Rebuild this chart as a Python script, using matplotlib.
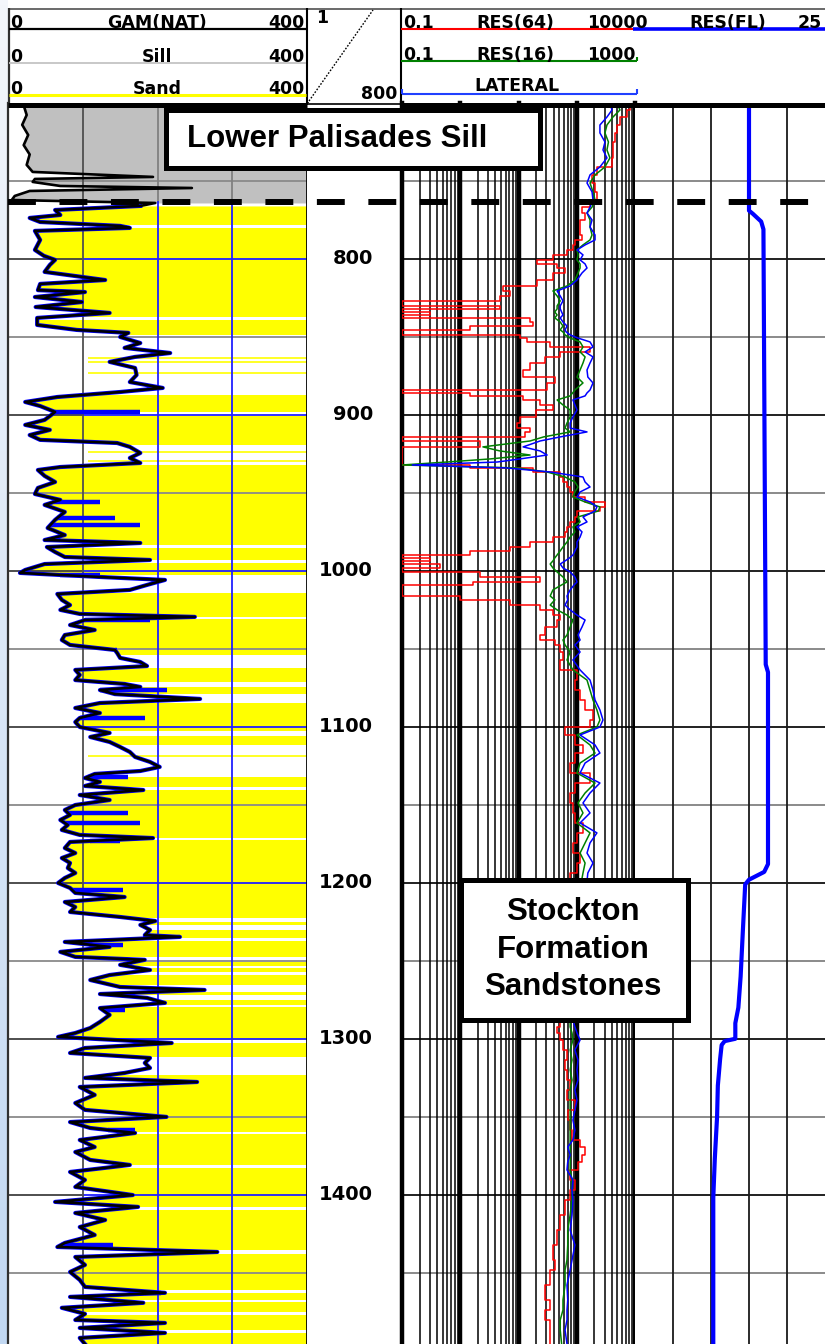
import numpy as np
import matplotlib
matplotlib.use("Agg")
import matplotlib.pyplot as plt
import matplotlib.transforms as mtransforms
from matplotlib.patches import Rectangle
from matplotlib.colors import LinearSegmentedColormap

# ------------------------------------------------------------------ data
gr_depth = [700.0, 707.7, 714.0, 720.5, 727.0, 733.0, 739.7, 744.2, 747.4, 748.7,
            750.6, 753.2, 754.5, 756.4, 759.6, 762.2, 764.1, 766.0, 768.6, 771.8,
            773.7, 776.3, 778.8, 780.1, 782.0, 787.8, 794.2, 798.0, 800.6, 803.8,
            808.3, 813.5, 816.0, 820.0, 821.2, 824.4, 827.6, 830.8, 834.6, 837.8,
            842.3, 845.5, 847.4, 850.0, 853.9, 857.0, 860.3, 862.8, 866.0, 869.9,
            874.4, 878.9, 882.7, 885.3, 888.5, 891.7, 894.3, 898.1, 900.7, 903.2,
            906.4, 909.6, 912.9, 916.0, 918.0, 920.5, 924.4, 927.6, 930.8, 933.4,
            935.3, 939.1, 943.0, 946.8, 950.7, 954.5, 957.7, 962.2, 967.3, 972.5,
            977.0, 980.2, 982.1, 984.7, 987.9, 991.1, 993.0, 995.6, 999.4, 1001.3,
            1003.9, 1005.8, 1009.0, 1012.2, 1014.8, 1018.6, 1021.9, 1025.0, 1027.6, 1029.5,
            1031.5, 1034.7, 1037.9, 1041.1, 1044.3, 1047.5, 1050.7, 1052.6, 1055.8, 1058.4,
            1061.0, 1063.5, 1066.7, 1070.0, 1072.5, 1074.4, 1076.4, 1079.0, 1082.1, 1084.7,
            1087.9, 1091.1, 1094.3, 1096.9, 1100.1, 1103.9, 1106.5, 1109.7, 1112.9, 1116.1,
            1119.3, 1122.5, 1125.7, 1128.3, 1130.2, 1132.8, 1135.3, 1137.9, 1140.5, 1143.7,
            1146.9, 1150.1, 1153.3, 1156.5, 1159.7, 1162.9, 1166.1, 1169.3, 1171.3, 1173.8,
            1177.7, 1180.9, 1184.1, 1187.3, 1190.5, 1193.7, 1196.9, 1200.1, 1203.3, 1206.5,
            1209.1, 1212.3, 1215.5, 1218.7, 1221.9, 1224.5, 1227.0, 1230.2, 1233.5, 1234.7,
            1237.9, 1241.1, 1244.3, 1247.5, 1249.4, 1252.6, 1255.9, 1259.1, 1262.3, 1266.8,
            1268.7, 1271.3, 1273.8, 1277.0, 1280.3, 1284.7, 1289.2, 1293.1, 1296.3, 1298.8,
            1302.7, 1305.9, 1309.1, 1312.3, 1315.5, 1318.7, 1321.9, 1325.1, 1327.7, 1330.9,
            1336.0, 1341.2, 1345.6, 1350.1, 1353.4, 1357.2, 1360.4, 1364.9, 1369.4, 1372.6,
            1377.7, 1380.9, 1385.4, 1390.5, 1395.0, 1400.2, 1404.6, 1407.8, 1411.7, 1416.2,
            1420.7, 1425.8, 1430.9, 1433.5, 1436.7, 1439.9, 1445.0, 1449.5, 1454.6, 1459.1,
            1462.9, 1465.5, 1469.3, 1472.5, 1476.4, 1480.3, 1482.2, 1485.4, 1488.6, 1491.8,
            1495.7]
gr_api = [20, 25, 19, 27, 21, 29, 25, 33, 194, 36,
          33, 70, 246, 29, 9, 5, 197, 177, 63, 70,
          29, 43, 150, 163, 36, 43, 36, 48, 63, 56,
          49, 130, 43, 40, 103, 36, 99, 37, 136, 39,
          39, 92, 161, 150, 177, 156, 217, 170, 136, 170,
          172, 163, 207, 150, 66, 23, 43, 63, 56, 49,
          23, 56, 29, 43, 146, 163, 177, 163, 177, 70,
          40, 49, 63, 40, 36, 70, 49, 76, 63, 53,
          76, 49, 177, 52, 63, 76, 190, 49, 23, 16,
          123, 210, 186, 163, 66, 72, 83, 70, 96, 250,
          103, 83, 116, 76, 72, 83, 143, 146, 150, 177,
          186, 90, 96, 90, 156, 177, 123, 143, 257, 123,
          90, 123, 96, 90, 96, 136, 110, 136, 150, 163,
          170, 190, 203, 177, 116, 103, 123, 103, 181, 96,
          136, 90, 76, 83, 70, 80, 72, 96, 194, 83,
          76, 90, 72, 83, 80, 90, 76, 67, 83, 90,
          156, 76, 90, 83, 150, 197, 177, 190, 183, 230,
          76, 136, 70, 90, 183, 150, 190, 136, 110, 150,
          263, 123, 186, 210, 123, 136, 123, 110, 90, 67,
          219, 103, 83, 190, 183, 190, 156, 103, 253, 96,
          116, 90, 103, 212, 83, 110, 170, 96, 116, 90,
          110, 163, 83, 103, 90, 167, 63, 174, 90, 130,
          96, 116, 76, 66, 280, 90, 103, 83, 96, 103,
          210, 83, 181, 72, 103, 90, 210, 96, 210, 96,
          103]

blue_spike_depth = [898.1, 955.8, 966.1, 970.6, 1002.6, 1031.5, 1050.7, 1076.4, 1094.3, 1132.1,
                    1155.2, 1161.6, 1173.2, 1204.6, 1239.9, 1281.5, 1358.5, 1380.9, 1432.2, 1463.0]
blue_spike_api = [177, 123, 143, 177, 123, 190, 146, 213, 183, 161,
                  161, 177, 150, 154, 154, 156, 170, 163, 140, 183]

shale_top = [778.2, 837.2, 848.7, 898.1, 919.3, 983.4, 993.0, 1002.6, 1029.5, 1053.9,
             1071.2, 1078.9, 1102.6, 1111.6, 1138.6, 1171.3, 1222.6, 1227.0, 1235.4, 1247.5,
             1253.3, 1257.2, 1265.5, 1271.9, 1278.3, 1300.8, 1311.7, 1359.8, 1380.9, 1407.9,
             1435.4, 1461.1, 1467.5, 1475.2, 1486.5]
shale_base = [780.1, 839.1, 887.2, 900.7, 932.1, 985.3, 995.0, 1014.2, 1030.8, 1062.3,
              1074.4, 1084.7, 1105.9, 1132.1, 1140.5, 1172.5, 1225.1, 1230.2, 1237.3, 1250.8,
              1254.6, 1259.1, 1270.0, 1275.1, 1279.6, 1302.7, 1323.2, 1361.0, 1382.9, 1409.8,
              1438.0, 1463.0, 1468.8, 1477.1, 1488.4]
thin_sand_depth = [863.5, 866.0, 873.1, 923.8, 929.5, 1118.7]

res_depth = [700.0, 704.5, 709.0, 714.1, 719.2, 725.0, 730.1, 735.2, 741.0, 746.1,
             751.3, 757.0, 762.2, 766.7, 770.5, 775.0, 779.5, 784.6, 787.8, 791.0,
             794.2, 797.4, 800.6, 803.2, 805.8, 809.0, 813.5, 817.3, 820.5, 823.7,
             826.9, 830.1, 832.0, 834.0, 835.9, 837.8, 840.4, 843.0, 845.5, 846.8,
             848.7, 850.7, 853.2, 856.4, 859.6, 862.8, 866.7, 871.2, 875.7, 879.5,
             884.0, 885.9, 887.8, 890.4, 893.6, 896.8, 901.3, 905.2, 908.4, 910.9,
             914.1, 916.7, 920.5, 923.1, 925.7, 928.2, 930.2, 932.1, 934.0, 936.6,
             939.8, 943.0, 946.2, 949.4, 952.6, 955.8, 959.0, 961.6, 965.4, 968.6,
             971.8, 975.0, 978.3, 981.5, 984.7, 987.2, 989.8, 991.7, 993.6, 995.6,
             998.1, 1000.7, 1003.9, 1007.1, 1009.0, 1012.2, 1016.1, 1018.6, 1021.9, 1025.0,
             1028.3, 1031.5, 1036.0, 1041.1, 1044.3, 1047.5, 1052.0, 1057.1, 1063.5, 1070.0,
             1076.4, 1082.8, 1089.2, 1095.6, 1100.1, 1105.2, 1111.6, 1116.8, 1123.2, 1129.6,
             1136.0, 1142.4, 1148.8, 1155.2, 1161.6, 1168.0, 1174.4, 1180.9, 1187.3, 1193.7,
             1211.0, 1236.8, 1262.3, 1281.5, 1288.0, 1292.4, 1296.3, 1300.8, 1307.2, 1313.6,
             1320.0, 1326.5, 1332.8, 1339.3, 1345.7, 1352.1, 1358.5, 1364.9, 1369.4, 1374.5,
             1379.0, 1384.1, 1390.5, 1396.9, 1403.4, 1413.0, 1422.6, 1432.2, 1441.8, 1448.2,
             1457.9, 1467.5, 1473.9, 1480.3, 1486.7, 1495.7]
res_lateral = [371, 402, 330, 250, 250, 305, 282, 330, 250, 169,
               150, 183, 190, 169, 150, 183, 169, 206, 206, 139,
               101, 128, 114, 139, 150, 123, 101, 77, 46, 52,
               58, 52, 52, 55, 58, 52, 58, 68, 63, 66,
               77, 105, 169, 190, 139, 190, 169, 150, 155, 190,
               169, 150, 139, 86, 93, 101, 86, 77, 77, 150,
               52, 23.5, 12, 23.5, 31, 10.7, 4.3, 0.15, 6.3, 35,
               128, 139, 169, 114, 101, 169, 222, 206, 128, 150,
               101, 123, 114, 101, 101, 93, 86, 75, 63, 52,
               58, 77, 93, 101, 90, 77, 68, 70, 63, 77,
               101, 139, 123, 105, 114, 93, 114, 86, 114, 169,
               190, 206, 250, 282, 250, 114, 206, 250, 139, 114,
               250, 169, 128, 169, 114, 222, 169, 150, 190, 155,
               139, 114, 105, 101, 86, 93, 101, 114, 93, 105,
               101, 105, 93, 101, 93, 86, 93, 86, 70, 77,
               70, 68, 86, 83, 86, 83, 77, 93, 83, 77,
               68, 70, 68, 68, 63, 68]
res_16 = [490, 551, 418, 330, 305, 350, 330, 371, 305, 206,
          169, 190, 206, 183, 150, 169, 169, 183, 169, 128,
          101, 105, 101, 114, 114, 105, 93, 68, 39, 46,
          52, 46, 46, 42, 46, 42, 52, 58, 52, 58,
          63, 77, 114, 128, 114, 139, 128, 114, 101, 128,
          93, 85, 77, 46, 58, 77, 77, 68, 63, 77,
          27, 15.8, 2.45, 4.8, 15.8, 3.3, 0.59, 0.1, 9.5, 31,
          63, 93, 105, 93, 86, 139, 250, 235, 105, 114,
          86, 93, 77, 68, 58, 52, 46, 42, 39, 35,
          39, 46, 58, 68, 55, 39, 35, 42, 35, 46,
          68, 86, 77, 68, 58, 63, 77, 68, 86, 150,
          169, 190, 222, 250, 222, 101, 169, 206, 114, 101,
          206, 139, 105, 128, 101, 169, 139, 114, 139, 128,
          105, 93, 86, 77, 77, 77, 83, 86, 77, 83,
          77, 83, 77, 77, 77, 77, 77, 77, 77, 77,
          77, 77, 83, 83, 83, 77, 70, 70, 68, 63,
          63, 58, 58, 52, 52, 55]
res_64 = [670, 815, 725, 551, 490, 460, 418, 418, 402, 222,
          183, 206, 222, 169, 123, 139, 114, 114, 123, 93,
          86, 68, 39, 21, 46, 63, 39, 21, 5.4, 7.1,
          4.8, 0.1, 4.8, 0.1, 0.3, 0.1, 15.8, 17.8, 1.47, 0.1,
          0.1, 10.7, 14, 35, 169, 52, 28, 15.8, 12, 42,
          31, 0.1, 1.47, 12, 23.5, 39, 20, 10.7, 9.5, 15.8,
          13, 0.1, 2.2, 0.1, 0.1, 0.1, 0.1, 0.1, 1.47, 17.8,
          52, 58, 68, 77, 86, 139, 305, 250, 101, 93,
          77, 68, 63, 39, 15.8, 7.1, 1.47, 0.1, 0.3, 0.1,
          0.45, 0.1, 2.2, 23.5, 1.65, 0.1, 0.1, 1.0, 7.1, 23.5,
          39, 52, 46, 28, 23.5, 42, 52, 58, 52, 101,
          93, 114, 139, 190, 169, 63, 93, 128, 93, 77,
          169, 93, 77, 86, 93, 128, 101, 86, 114, 101,
          77, 63, 52, 42, 23.5, 52, 46, 52, 58, 68,
          63, 68, 77, 68, 93, 70, 77, 83, 114, 139,
          123, 105, 77, 93, 77, 63, 52, 46, 39, 42,
          35, 28, 35, 28, 35, 35]

fl_depth = [700, 769, 771, 776, 781, 1060, 1065, 1188, 1193, 1198, 1201, 1230,
            1260, 1280, 1290, 1300, 1301.5, 1304, 1313, 1330, 1350, 1377, 1402, 1495.7]
fl_res = [15.0, 15.0, 15.5, 16.6, 16.9, 17.2, 17.5, 17.5, 17.0, 15.0, 14.5, 14.2,
          13.9, 13.6, 13.2, 13.2, 11.8, 11.4, 11.2, 10.9, 10.8, 10.5, 10.3, 10.3]

depth_labels = [800, 900, 1000, 1100, 1200, 1300, 1400]
sill_base_depth = 763.5
sand_top_depth = 766.0
top_depth, bottom_depth = 700.0, 1495.7

# ------------------------------------------------------------------ layout
W, H = 825, 1344
fig = plt.figure(figsize=(W / 100, H / 100), dpi=100)
fig.patch.set_facecolor("white")


def frac(x0, x1, y0, y1):
    return [x0 / W, 1 - y1 / H, (x1 - x0) / W, (y1 - y0) / H]


def clean(ax):
    ax.tick_params(which="both", length=0, labelbottom=False, labelleft=False)
    for s in ax.spines.values():
        s.set_visible(False)


HDR_FONT = dict(family="DejaVu Sans", fontweight="bold", fontsize=12.5, color="black")

# left slide-background strip
ax_bg = fig.add_axes([0, 0, 8 / W, 1])
grad = np.linspace(0, 1, 256).reshape(-1, 1)
ax_bg.imshow(grad, aspect="auto", extent=[0, 1, 1, 0],
             cmap=LinearSegmentedColormap.from_list("bg", ["#f3f6fb", "#c2d8f2"]))
ax_bg.axis("off")

ax_gr = fig.add_axes(frac(8, 307, 103, H))
ax_dp = fig.add_axes(frac(307, 402, 103, H))
ax_rs = fig.add_axes(frac(402, 635, 103, H))
ax_fl = fig.add_axes(frac(635, 825, 103, H))
for ax in (ax_gr, ax_dp, ax_rs, ax_fl):
    ax.set_ylim(bottom_depth, top_depth)
    ax.set_facecolor("white")
ax_gr.set_xlim(0, 400)
ax_dp.set_xlim(0, 1)
ax_rs.set_xscale("log")
ax_rs.set_xlim(0.1, 1000)
ax_fl.set_xlim(0, 25)
for ax in (ax_gr, ax_dp, ax_rs, ax_fl):
    clean(ax)

# ------------------------------------------------------------------ track 1 (gamma)
gd = np.array(gr_depth)
ga = np.array(gr_api)
ax_gr.fill_betweenx(gd, ga, 400, where=gd <= 764.2, color="#c0c0c0", lw=0, zorder=1)
ax_gr.fill_betweenx(gd, ga, 400, where=gd >= sand_top_depth, color="#ffff00", lw=0, zorder=1)
for t, b in zip(shale_top, shale_base):
    ax_gr.axhspan(t, b, color="white", lw=0, zorder=1.5)
ax_gr.hlines(thin_sand_depth, 107, 400, color="#ffff00", lw=1.2, zorder=1.6)

for d in range(750, 1500, 50):
    if d % 100 == 0:
        ax_gr.plot([0, 100], [d, d], color="#404040", lw=1.3, zorder=2)
        ax_gr.plot([100, 400], [d, d], color="#2020ff", lw=1.3, zorder=2)
    else:
        ax_gr.axhline(d, color="#8a8a8a", lw=1.3, zorder=2)
ax_gr.axvline(100, color="#505050", lw=1.3, zorder=2)
for v in (200, 300):
    ax_gr.plot([v, v], [top_depth, sill_base_depth], color="#808080", lw=1.3, zorder=2)
    ax_gr.plot([v, v], [sill_base_depth, bottom_depth], color="#2020ff", lw=1.3, zorder=2)

sand = gd >= sand_top_depth
ax_gr.plot(ga[sand], gd[sand], color="#0000ff", lw=3.0, zorder=3)
ax_gr.hlines(blue_spike_depth, np.interp(blue_spike_depth, gd, ga), blue_spike_api,
             color="#0000ff", lw=3.2, zorder=3)
ax_gr.plot(ga, gd, color="black", lw=1.9, zorder=4)
ax_gr.axvline(0, color="#303030", lw=1.6, zorder=5, clip_on=False)
ax_gr.axvline(400, color="black", lw=2.0, zorder=5, clip_on=False)

# ------------------------------------------------------------------ depth track
tr_dp = mtransforms.blended_transform_factory(ax_dp.transAxes, ax_dp.transData)
for d in depth_labels:
    ax_dp.text(0.695, d, str(d), transform=tr_dp, ha="right", va="center",
               family="DejaVu Sans", fontweight="bold", fontsize=14)

# ------------------------------------------------------------------ resistivity track
for n in range(-1, 3):
    for k in range(2, 10):
        ax_rs.axvline(k * 10.0 ** n, color="black", lw=1.1, zorder=2)
for dec in (0.1, 1, 10, 100, 1000):
    ax_rs.axvline(dec, color="black", lw=3.2, zorder=2, clip_on=False)
for v in (5, 10, 15, 20):
    ax_fl.axvline(v, color="#1a1a1a", lw=1.3, zorder=2)
for ax in (ax_rs, ax_fl):
    for d in range(750, 1500, 50):
        ax.axhline(d, color="#202020" if d % 100 == 0 else "#8a8a8a", lw=1.4, zorder=1.8)

ax_rs.plot(res_64, res_depth, color="#ff0000", lw=1.1, drawstyle="steps-post", zorder=3)
ax_rs.plot(res_16, res_depth, color="#008000", lw=1.1, zorder=3.1)
ax_rs.plot(res_lateral, res_depth, color="#0000ff", lw=1.1, zorder=3.2)
ax_fl.plot(fl_res, fl_depth, color="#0000ff", lw=3.0, zorder=3)

# ------------------------------------------------------------------ overlay: dashed contact
ax_ov = fig.add_axes(frac(8, 825, 103, H))
ax_ov.set_xlim(0, 1)
ax_ov.set_ylim(bottom_depth, top_depth)
ax_ov.axis("off")
ax_ov.plot([0, 1], [sill_base_depth, sill_base_depth], color="black", lw=4.3,
           dashes=(4.67, 3.95), dash_capstyle="butt", zorder=6)

# ------------------------------------------------------------------ header
ax_hd = fig.add_axes(frac(8, 825, 8, 103))
ax_hd.set_xlim(8, 825)
ax_hd.set_ylim(103, 8)
ax_hd.axis("off")
kw = dict(clip_on=False, solid_capstyle="butt")
ax_hd.plot([8, 825], [8.5, 8.5], color="#505050", lw=1.2, **kw)
ax_hd.plot([8.5, 8.5], [8, 105], color="#303030", lw=1.6, **kw)
for x in (307, 401):
    ax_hd.plot([x, x], [8, 105], color="black", lw=1.5, **kw)
ax_hd.plot([8, 307], [105, 105], color="black", lw=3.6, **kw)
ax_hd.plot([307, 401], [104, 104], color="black", lw=1.2, **kw)
ax_hd.plot([401, 825], [105, 105], color="black", lw=3.6, **kw)

# gamma header
for (name, yb, lc, lw) in (("GAM(NAT)", 28.5, "black", 1.6),
                           ("Sill", 62.5, "#c4c4c4", 1.3),
                           ("Sand", 94.5, "#ffff00", 2.2)):
    ax_hd.plot([9, 306], [yb, yb], color=lc, lw=lw, **kw)
    ax_hd.text(10, yb, "0", ha="left", va="baseline", **HDR_FONT)
    ax_hd.text(157, yb, name, ha="center", va="baseline", **HDR_FONT)
    ax_hd.text(305, yb, "400", ha="right", va="baseline", **HDR_FONT)

# depth header (scale 1 : 800)
ax_hd.plot([309, 373], [101, 10], color="black", lw=1.0, linestyle=(0, (1.2, 1.2)), **kw)
ax_hd.text(316, 23, "1", ha="left", va="baseline", **HDR_FONT)
ax_hd.text(397, 99, "800", ha="right", va="baseline", **HDR_FONT)

# resistivity header
ax_hd.plot([401, 633], [28.5, 28.5], color="#ff0000", lw=1.5, **kw)
ax_hd.plot([633, 825], [28.5, 28.5], color="#0000ff", lw=2.6, **kw)
ax_hd.text(403, 28, "0.1", ha="left", va="baseline", **HDR_FONT)
ax_hd.text(515, 28, "RES(64)", ha="center", va="baseline", **HDR_FONT)
ax_hd.text(648, 28, "10000", ha="right", va="baseline", **HDR_FONT)
ax_hd.text(728, 28, "RES(FL)", ha="center", va="baseline", **HDR_FONT)
ax_hd.text(822, 28, "25", ha="right", va="baseline", **HDR_FONT)

ax_hd.plot([401, 637], [61, 61], color="#008000", lw=1.5, **kw)
ax_hd.plot([637, 637], [57, 61], color="#008000", lw=1.5, **kw)
ax_hd.text(403, 60, "0.1", ha="left", va="baseline", **HDR_FONT)
ax_hd.text(515, 60, "RES(16)", ha="center", va="baseline", **HDR_FONT)
ax_hd.text(636, 60, "1000", ha="right", va="baseline", **HDR_FONT)

ax_hd.plot([402, 637], [94, 94], color="#2040ff", lw=1.5, **kw)
ax_hd.plot([402, 402], [89, 94], color="#2040ff", lw=1.5, **kw)
ax_hd.plot([637, 637], [89, 94], color="#2040ff", lw=1.5, **kw)
ax_hd.text(517, 91, "LATERAL", ha="center", va="baseline", **HDR_FONT)

# ------------------------------------------------------------------ annotation boxes
BOX_FONT = dict(family="Liberation Sans", fontweight="bold", fontsize=22.5, color="black", zorder=11)


def fig_rect(x0, x1, y0, y1):
    r = Rectangle((x0 / W, 1 - y1 / H), (x1 - x0) / W, (y1 - y0) / H,
                  transform=fig.transFigure, facecolor="white", edgecolor="black",
                  lw=3.6, zorder=10)
    fig.add_artist(r)


fig_rect(165.5, 539.5, 109.5, 167.5)
fig.text(187 / W, 1 - 147 / H, "Lower Palisades Sill", ha="left", va="baseline", **BOX_FONT)

fig_rect(460.5, 687.5, 879.5, 1019.5)
for line, yb in (("Stockton", 920), ("Formation", 958), ("Sandstones", 995)):
    fig.text(573 / W, 1 - yb / H, line, ha="center", va="baseline", **BOX_FONT)

fig.savefig("out.png", dpi=100, facecolor="white")
